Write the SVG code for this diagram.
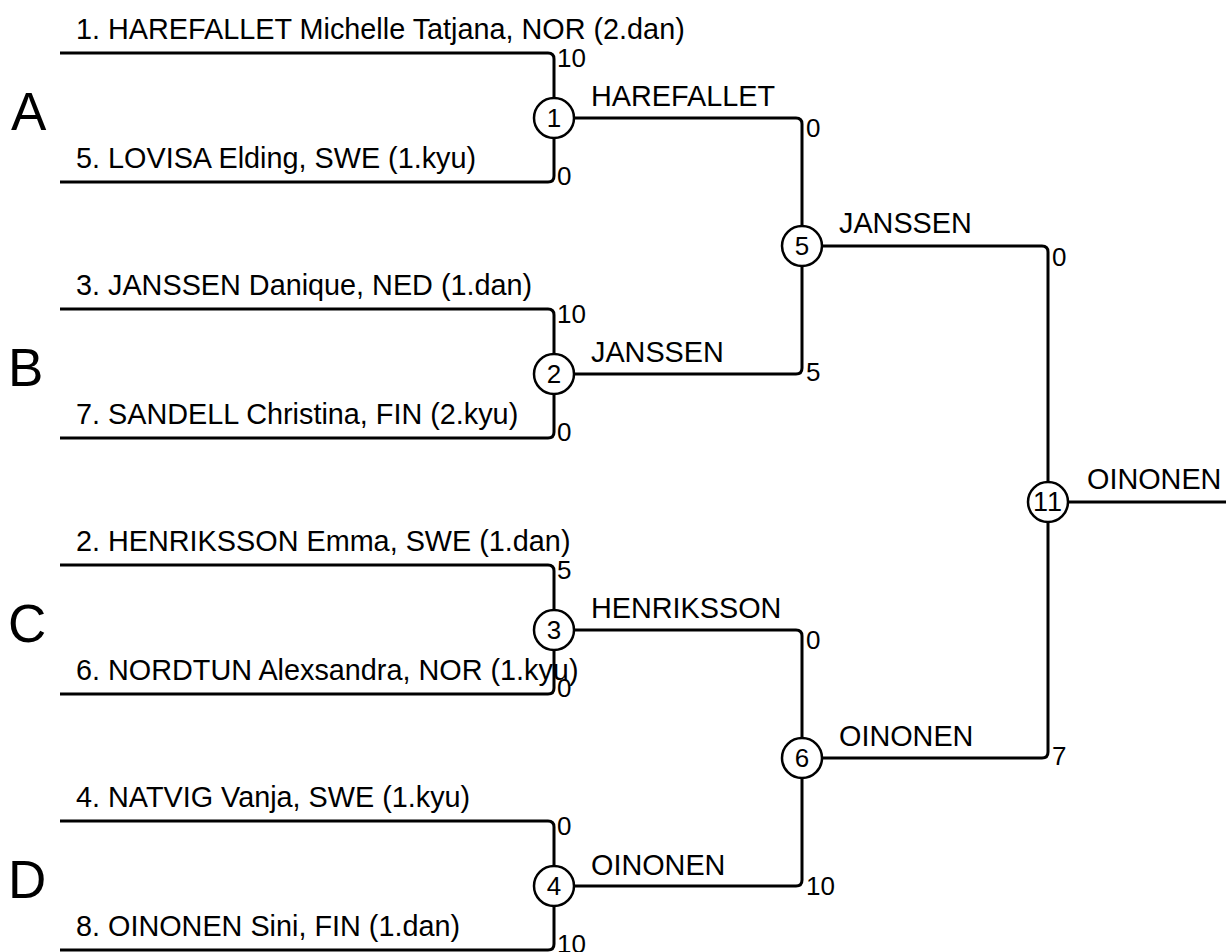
<svg xmlns="http://www.w3.org/2000/svg" width="1226" height="952" viewBox="0 0 1226 952">
<style>
.ln{fill:none;stroke:#000;stroke-width:3}
.nd circle{fill:#fff;stroke:#000;stroke-width:2.5}
text{font-family:"Liberation Sans",Arial,sans-serif;fill:#000}
.nm{font-size:28.8px}
.sc{font-size:26px}
.cn{font-size:26px;text-anchor:middle}
.big{font-size:53px}
</style>
<rect width="1226" height="952" fill="#fff"/>
<g id="connectors">
<path class="ln" d="M60,53 H548 Q554,53 554,59 V98"/>
<path class="ln" d="M60,182 H548 Q554,182 554,176 V138"/>
<path class="ln" d="M60,309 H548 Q554,309 554,315 V354"/>
<path class="ln" d="M60,438 H548 Q554,438 554,432 V394"/>
<path class="ln" d="M60,565 H548 Q554,565 554,571 V610"/>
<path class="ln" d="M60,694 H548 Q554,694 554,688 V650"/>
<path class="ln" d="M60,821 H548 Q554,821 554,827 V866"/>
<path class="ln" d="M60,950 H548 Q554,950 554,944 V906"/>
<path class="ln" d="M574,118 H796 Q802,118 802,124 V226"/>
<path class="ln" d="M574,374 H796 Q802,374 802,368 V266"/>
<path class="ln" d="M574,630 H796 Q802,630 802,636 V738"/>
<path class="ln" d="M574,886 H796 Q802,886 802,880 V778"/>
<path class="ln" d="M822,246 H1042 Q1048,246 1048,252 V482"/>
<path class="ln" d="M822,758 H1042 Q1048,758 1048,752 V522"/>
<path class="ln" d="M1068,502 H1226"/>
</g>
<g id="labels">
<text class="big" x="11" y="130">A</text>
<text class="big" x="8" y="386">B</text>
<text class="big" x="8" y="642">C</text>
<text class="big" x="8" y="898">D</text>
<text class="nm" x="76" y="39">1. HAREFALLET Michelle Tatjana, NOR (2.dan)</text>
<text class="nm" x="76" y="168">5. LOVISA Elding, SWE (1.kyu)</text>
<text class="nm" x="76" y="295">3. JANSSEN Danique, NED (1.dan)</text>
<text class="nm" x="76" y="424">7. SANDELL Christina, FIN (2.kyu)</text>
<text class="nm" x="76" y="551">2. HENRIKSSON Emma, SWE (1.dan)</text>
<text class="nm" x="76" y="680">6. NORDTUN Alexsandra, NOR (1.kyu)</text>
<text class="nm" x="76" y="807">4. NATVIG Vanja, SWE (1.kyu)</text>
<text class="nm" x="76" y="936">8. OINONEN Sini, FIN (1.dan)</text>
<text class="nm" x="591" y="106">HAREFALLET</text>
<text class="nm" x="591" y="362">JANSSEN</text>
<text class="nm" x="591" y="618">HENRIKSSON</text>
<text class="nm" x="591" y="875">OINONEN</text>
<text class="nm" x="839" y="233">JANSSEN</text>
<text class="nm" x="839" y="746">OINONEN</text>
<text class="nm" x="1087" y="489">OINONEN</text>
<text class="sc" x="557" y="67">10</text>
<text class="sc" x="557" y="185">0</text>
<text class="sc" x="557" y="323">10</text>
<text class="sc" x="557" y="441">0</text>
<text class="sc" x="557" y="579">5</text>
<text class="sc" x="557" y="697">0</text>
<text class="sc" x="557" y="835">0</text>
<text class="sc" x="557" y="953">10</text>
<text class="sc" x="806" y="137">0</text>
<text class="sc" x="806" y="381">5</text>
<text class="sc" x="806" y="649">0</text>
<text class="sc" x="806" y="895">10</text>
<text class="sc" x="1052" y="266">0</text>
<text class="sc" x="1052" y="765">7</text>
</g>
<g id="node1" class="nd"><circle cx="554" cy="118" r="20"/><text class="cn" x="554" y="127">1</text></g>
<g id="node2" class="nd"><circle cx="554" cy="374" r="20"/><text class="cn" x="554" y="383">2</text></g>
<g id="node3" class="nd"><circle cx="554" cy="630" r="20"/><text class="cn" x="554" y="639">3</text></g>
<g id="node4" class="nd"><circle cx="554" cy="886" r="20"/><text class="cn" x="554" y="895">4</text></g>
<g id="node5" class="nd"><circle cx="802" cy="246" r="20"/><text class="cn" x="802" y="255">5</text></g>
<g id="node6" class="nd"><circle cx="802" cy="758" r="20"/><text class="cn" x="802" y="767">6</text></g>
<g id="node11" class="nd"><circle cx="1048" cy="502" r="20"/><text class="cn" x="1048" y="511" style="font-size:27px;letter-spacing:1px">11</text></g>
</svg>
